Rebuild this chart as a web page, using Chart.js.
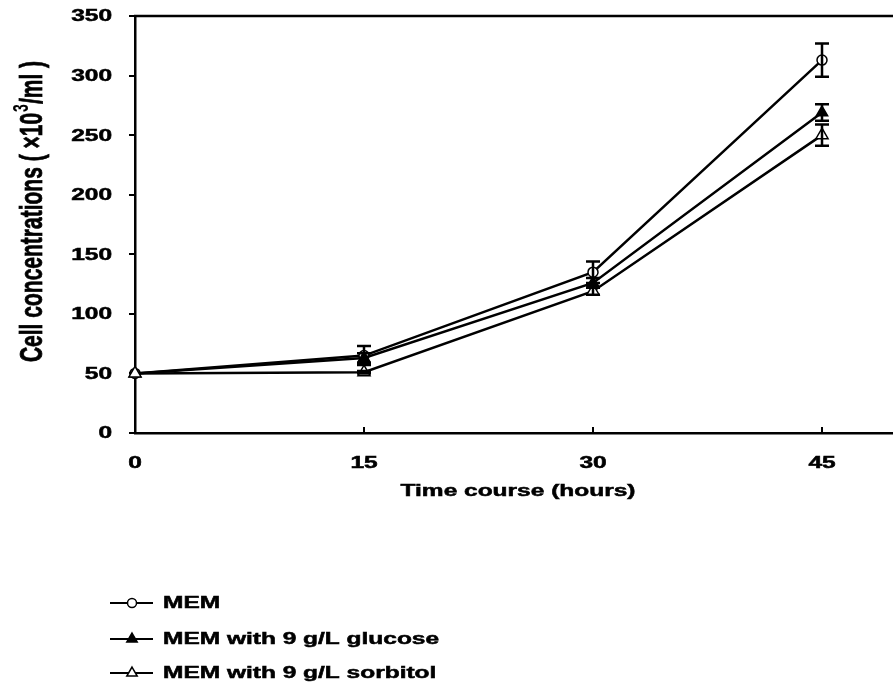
<!DOCTYPE html>
<html><head><meta charset="utf-8">
<script src="https://cdn.jsdelivr.net/npm/chart.js@4/dist/chart.umd.min.js"></script>
<style>html,body{margin:0;padding:0;background:#fff;overflow:hidden}</style>
</head><body>
<canvas id="c" width="893" height="689"></canvas>
<script>
const hours = [0, 15, 30, 45];
const xTickValues = [0, 15, 30, 45];
const yTickValues = [0, 50, 100, 150, 200, 250, 300, 350];
const seriesNames = ['MEM', 'MEM with 9 g/L glucose', 'MEM with 9 g/L sorbitol'];
const memValues = [50, 65, 135, 313];
const memErrors = [0, 8, 9, 14];
const glucoseValues = [50, 63, 126, 269];
const glucoseErrors = [0, 4, 4, 7];
const sorbitolValues = [50, 51, 119, 250];
const sorbitolErrors = [0, 1, 3, 9];
const xTitle = 'Time course (hours)';
const yTitleParts = ['Cell concentrations ( ×10', '3', '/ml )'];

const FONT = "'Liberation Sans', Arial, sans-serif";
const SX = 1.53; // horizontal stretch of the reference's lettering

function pts(vals){ return hours.map((h,i)=>({x:h, y:vals[i]})); }

const styles = [
  {pointStyle:'circle', radius:5, bg:'#fff', order:2},
  {pointStyle:'triangle', radius:6.5, bg:'#000', order:1},
  {pointStyle:'triangle', radius:7, bg:'#fff', order:0}
];
const valueSets = [memValues, glucoseValues, sorbitolValues];
const errorSets = [memErrors, glucoseErrors, sorbitolErrors];

const datasets = seriesNames.map((n,i)=>({
  label:n,
  data:pts(valueSets[i]),
  errors:errorSets[i],
  order:styles[i].order,
  borderColor:'#000',
  borderWidth:2.5,
  pointStyle:styles[i].pointStyle,
  pointRadius:styles[i].radius,
  pointBackgroundColor:styles[i].bg,
  pointBorderColor:'#000',
  pointBorderWidth:1.5,
  tension:0,
  fill:false,
  clip:false
}));

function txt(ctx, s, x, y, size, align){
  ctx.save();
  ctx.translate(x, y); ctx.scale(SX, 1);
  ctx.font = 'bold ' + size + 'px ' + FONT;
  ctx.fillStyle = '#000'; ctx.strokeStyle = '#000'; ctx.lineWidth = 0.5;
  ctx.textAlign = align; ctx.textBaseline = 'middle';
  ctx.fillText(s, 0, 0);
  ctx.strokeText(s, 0, 0);
  ctx.restore();
}

const extras = {
  id:'extras',
  afterDatasetsDraw(chart){
    const ctx = chart.ctx, xs = chart.scales.x, ys = chart.scales.y;
    ctx.save();
    ctx.strokeStyle = '#000'; ctx.lineWidth = 2.5;
    chart.data.datasets.forEach(ds=>{
      ds.data.forEach((p,i)=>{
        const e = ds.errors[i]; if(!e) return;
        const px = xs.getPixelForValue(p.x);
        const y1 = ys.getPixelForValue(p.y + e), y2 = ys.getPixelForValue(p.y - e);
        ctx.beginPath();
        ctx.moveTo(px, y1); ctx.lineTo(px, y2);
        ctx.moveTo(px-7, y1); ctx.lineTo(px+7, y1);
        ctx.moveTo(px-7, y2); ctx.lineTo(px+7, y2);
        ctx.stroke();
      });
    });
    ctx.restore();
  },
  afterDraw(chart){
    const ctx = chart.ctx, a = chart.chartArea, xs = chart.scales.x, ys = chart.scales.y;
    ctx.save();
    ctx.strokeStyle = '#000'; ctx.lineWidth = 2.5;
    // top frame line
    ctx.beginPath(); ctx.moveTo(a.left-1, a.top); ctx.lineTo(a.right, a.top); ctx.stroke();
    // inward x ticks
    ctx.lineWidth = 2;
    xTickValues.forEach(v=>{
      if(v===0) return;
      const px = Math.round(xs.getPixelForValue(v));
      ctx.beginPath(); ctx.moveTo(px, a.bottom); ctx.lineTo(px, a.bottom-6); ctx.stroke();
    });
    // tick labels
    yTickValues.forEach(v=> txt(ctx, String(v), 112, ys.getPixelForValue(v)+1, 16, 'right'));
    xTickValues.forEach(v=> txt(ctx, String(v), xs.getPixelForValue(v), 464, 16, 'center'));
    // axis titles
    txt(ctx, xTitle, (a.left + a.right)/2 + 4, 492, 16, 'center');
    ctx.save();
    ctx.translate(33, 212); ctx.rotate(-Math.PI/2); ctx.scale(1, SX);
    ctx.fillStyle = '#000'; ctx.strokeStyle = '#000'; ctx.lineWidth = 0.5;
    ctx.textBaseline = 'middle'; ctx.textAlign = 'left';
    const f1 = 'bold 21px ' + FONT, f2 = 'bold 14px ' + FONT;
    ctx.font = f1; const w1 = ctx.measureText(yTitleParts[0]).width, w3 = ctx.measureText(yTitleParts[2]).width;
    ctx.font = f2; const w2 = ctx.measureText(yTitleParts[1]).width;
    let x0 = -(w1 + w2 + w3)/2;
    ctx.font = f1; ctx.fillText(yTitleParts[0], x0, 0); ctx.strokeText(yTitleParts[0], x0, 0);
    ctx.font = f2; ctx.fillText(yTitleParts[1], x0 + w1 + 1, -7);
    ctx.font = f1; ctx.fillText(yTitleParts[2], x0 + w1 + w2 + 1, 0); ctx.strokeText(yTitleParts[2], x0 + w1 + w2 + 1, 0);
    ctx.restore();
    // legend
    const rowY = [603, 639, 673];
    const byLabel = seriesNames.map(n => chart.data.datasets.find(d => d.label === n));
    byLabel.forEach((ds,i)=>{
      const y = rowY[i];
      ctx.strokeStyle = '#000'; ctx.lineWidth = 2;
      ctx.beginPath(); ctx.moveTo(110, y); ctx.lineTo(153, y); ctx.stroke();
      ctx.fillStyle = ds.pointBackgroundColor; ctx.strokeStyle = '#000'; ctx.lineWidth = 1.5;
      Chart.helpers.drawPoint(ctx, {pointStyle:ds.pointStyle, radius: ds.pointStyle==='circle'?4.5:6, borderWidth:1.5, rotation:0}, 132, y);
      txt(ctx, ds.label, 163, y+1, 16, 'left');
    });
    ctx.restore();
  }
};

new Chart(document.getElementById('c'), {
  type:'line',
  data:{datasets},
  plugins:[extras],
  options:{
    responsive:false, animation:false, devicePixelRatio:1,
    layout:{autoPadding:false, padding:{top:16, left:0, right:0, bottom:0}},
    plugins:{legend:{display:false}, tooltip:{enabled:false}},
    scales:{
      x:{
        type:'linear', min:0, max:49.65,
        afterBuildTicks(s){ s.ticks = xTickValues.map(v=>({value:v})); },
        afterFit(s){ s.height = 256; },
        grid:{display:false, drawTicks:false},
        border:{display:true, color:'#000', width:2.5},
        ticks:{display:false}
      },
      y:{
        min:0, max:350,
        afterBuildTicks(s){ s.ticks = yTickValues.map(v=>({value:v})); },
        afterFit(s){ s.width = 135; },
        grid:{display:true, drawOnChartArea:false, drawTicks:true, tickLength:6, color:'#000', lineWidth:2},
        border:{display:true, color:'#000', width:2.5},
        ticks:{display:false}
      }
    }
  }
});
</script>
</body></html>
